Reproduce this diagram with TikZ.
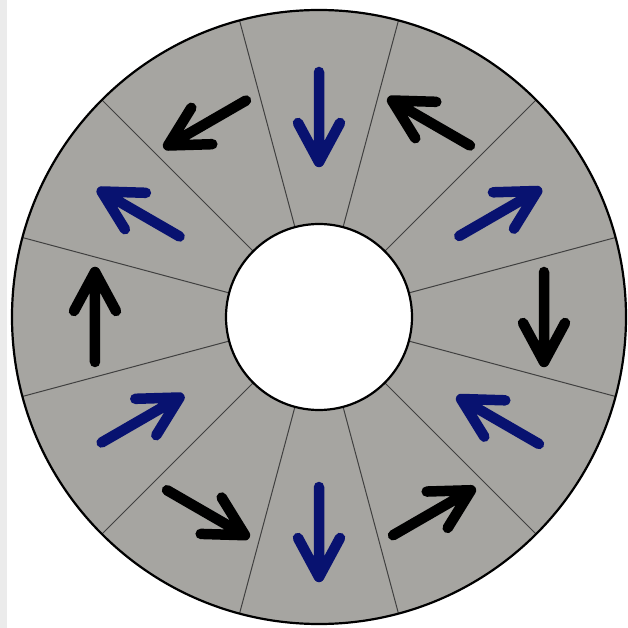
\documentclass[tikz,border=0pt]{standalone}

\definecolor{ringgray}{RGB}{166,165,161}
\definecolor{fieldblue}{RGB}{8,18,112}

\begin{document}
\begin{tikzpicture}[
    x=1pt, y=1pt,
    divider/.style={line width=1pt, draw=black!75},
    rim/.style={line width=2.2pt, draw=black},
    magarrow/.style={line width=10.5pt, line cap=round, line join=round}
]

% Canvas - same size as the screenshot
\useasboundingbox (-319, -311) rectangle (309, 317);
\fill[white] (-319, -311) rectangle (309, 317);
\fill[black!8] (-319, -311) rectangle (-312, 317);

% Ring of twelve segments
\fill[ringgray, even odd rule] (0, 0) circle (307) (0, 0) circle (93);
\foreach \a in {15, 45, ..., 345}
    \draw[divider] (\a:93) -- (\a:307);
\draw[rim] (0, 0) circle (307);
\draw[rim, fill=white] (0, 0) circle (93);

% Arrows - segment angle / direction / radius / colour
\foreach \s/\d/\r/\c in {
    90/-90/200/fieldblue, 60/150/224/black, 30/30/207/fieldblue,
    0/-90/225/black, -30/150/209/fieldblue, -60/30/226/black,
    -90/-90/215/fieldblue, -120/-30/226/black, -150/30/206/fieldblue,
    180/90/224/black, 150/150/206/fieldblue, 120/210/224/black}
    \draw[magarrow, color=\c, shift={(\s:\r)}, rotate=\d]
        (-45, 0) -- (45, 0)
        (6, 21) -- (45, 0) -- (6, -21);

\end{tikzpicture}
\end{document}
